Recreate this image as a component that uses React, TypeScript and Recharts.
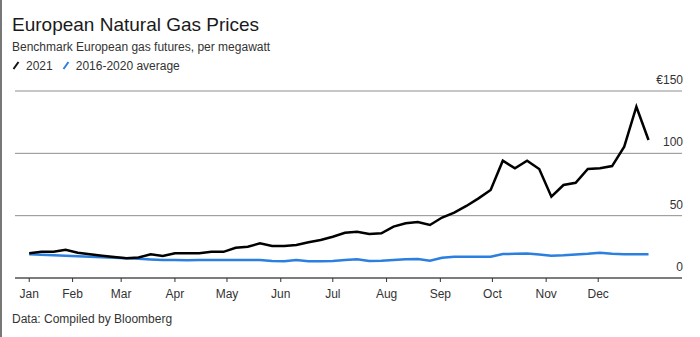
import { LineChart, Line, XAxis, YAxis, CartesianGrid } from 'recharts';

// weekly observations (Thursday closes)
const weeks = [
  '2021-01-07', '2021-01-14', '2021-01-21', '2021-01-28',
  '2021-02-04', '2021-02-11', '2021-02-18', '2021-02-25',
  '2021-03-04', '2021-03-11', '2021-03-18', '2021-03-25',
  '2021-04-01', '2021-04-08', '2021-04-15', '2021-04-22', '2021-04-29',
  '2021-05-06', '2021-05-13', '2021-05-20', '2021-05-27',
  '2021-06-03', '2021-06-10', '2021-06-17', '2021-06-24',
  '2021-07-01', '2021-07-08', '2021-07-15', '2021-07-22', '2021-07-29',
  '2021-08-05', '2021-08-12', '2021-08-19', '2021-08-26',
  '2021-09-02', '2021-09-09', '2021-09-16', '2021-09-23', '2021-09-30',
  '2021-10-07', '2021-10-14', '2021-10-21', '2021-10-28',
  '2021-11-04', '2021-11-11', '2021-11-18', '2021-11-25',
  '2021-12-02', '2021-12-09', '2021-12-16', '2021-12-23', '2021-12-30',
];

const gas2021 = [
  19.8, 21, 21, 22.7, 20.3, 19, 17.9, 16.8, 15.8, 16.4, 19, 17.6, 19.8,
  19.8, 19.8, 21, 21, 24.3, 25.1, 27.8, 25.7, 25.7, 26.5, 28.6, 30.5, 33.1,
  36.3, 37.1, 35.3, 35.8, 41.2, 43.9, 44.9, 42.5, 48.5, 52.5, 57.8, 63.9, 70.6,
  94.1, 88, 94.1, 87.4, 65.2, 74.6, 76.4, 87.4, 88, 89.8, 105.3, 137.4, 110.7,
];

const avg2016to2020 = [
  19, 18.6, 18.2, 17.8, 17.4, 17, 16.6, 16.2, 15.8, 15.4, 14.8, 14.4, 14.4,
  14.2, 14.4, 14.4, 14.4, 14.4, 14.4, 14.4, 13.6, 13.4, 14.4, 13.4, 13.4, 13.6,
  14.4, 15, 13.6, 13.8, 14.4, 15, 15.3, 13.9, 16.3, 17.1, 17.1, 17.1, 17.1,
  19.2, 19.4, 19.6, 18.8, 17.9, 18.2, 18.8, 19.4, 20.3, 19.4, 19, 19, 19,
];

const monthLabels = ['Jan', 'Feb', 'Mar', 'Apr', 'May', 'Jun', 'Jul', 'Aug', 'Sep', 'Oct', 'Nov', 'Dec'];
const monthTickDates = [
  '2021-01-07', '2021-02-01', '2021-03-01', '2021-04-01', '2021-05-01', '2021-06-01',
  '2021-07-01', '2021-08-01', '2021-09-01', '2021-10-01', '2021-11-01', '2021-12-01',
];
const priceTicks = [0, 50, 100, 150];

const dayOfYear = (d: string) => (Date.parse(d) - Date.parse('2021-01-01')) / 86400000;

const data = weeks.map((w, i) => ({
  day: dayOfYear(w),
  y2021: gas2021[i],
  avg: avg2016to2020[i],
}));
const monthTicks = monthTickDates.map(dayOfYear);

const FONT = '"Liberation Sans", Arial, Helvetica, sans-serif';
const BLUE = '#2b7fdf';
const PLOT_RIGHT = 682;

function PriceTick(props: any) {
  const { y, payload } = props;
  const label = payload.value === 150 ? '€150' : String(payload.value);
  return (
    <text x={PLOT_RIGHT + 1} y={y - 7} textAnchor="end" fontSize={12} fill="#333" fontFamily={FONT}>
      {label}
    </text>
  );
}

function Slash({ color }: { color: string }) {
  return (
    <svg width={8} height={10} style={{ verticalAlign: 'baseline', marginRight: 6 }}>
      <line x1={1.5} y1={9} x2={6.5} y2={2} stroke={color} strokeWidth={2} />
    </svg>
  );
}

export default function App() {
  return (
    <div
      style={{
        position: 'absolute',
        left: 0,
        top: 0,
        width: 700,
        height: 337,
        background: '#fff',
        fontFamily: FONT,
        color: '#222',
      }}
    >
      <div style={{ position: 'absolute', left: 0, top: 0, width: 2, height: 337, background: '#777' }} />
      <div style={{ position: 'absolute', left: 12, top: 15, fontSize: 19, lineHeight: '19px', color: '#1a1a1a' }}>
        European Natural Gas Prices
      </div>
      <div style={{ position: 'absolute', left: 12, top: 41, fontSize: 12, lineHeight: '12px', color: '#333' }}>
        Benchmark European gas futures, per megawatt
      </div>
      <div style={{ position: 'absolute', left: 12, top: 60, fontSize: 12, lineHeight: '12px', color: '#333', whiteSpace: 'nowrap' }}>
        <Slash color="#111" />
        <span style={{ marginRight: 9 }}>2021</span>
        <Slash color={BLUE} />
        <span>2016-2020 average</span>
      </div>
      <div style={{ position: 'absolute', left: 12, top: 313, fontSize: 12, lineHeight: '12px', color: '#333' }}>
        Data: Compiled by Bloomberg
      </div>

      <div style={{ position: 'absolute', left: 0, top: 0 }}>
        <LineChart width={700} height={337} data={data} margin={{ top: 91, right: 0, bottom: 29, left: 15 }}>
          <CartesianGrid vertical={false} stroke="#8f8f8f" />
          <XAxis
            dataKey="day"
            type="number"
            domain={[-2.2, 382.3]}
            allowDataOverflow
            ticks={monthTicks}
            tickFormatter={(v: number) => monthLabels[monthTicks.indexOf(v)] ?? ''}
            height={30}
            tickSize={4}
            tickMargin={7}
            stroke="#333"
            tick={{ fontSize: 12, fill: '#333' }}
            interval={0}
          />
          <YAxis
            orientation="right"
            width={18}
            domain={[0, 150]}
            ticks={priceTicks}
            axisLine={false}
            tickLine={false}
            tick={PriceTick}
          />
          <Line
            type="linear"
            dataKey="avg"
            stroke={BLUE}
            strokeWidth={2.5}
            dot={false}
            isAnimationActive={false}
          />
          <Line
            type="linear"
            dataKey="y2021"
            stroke="#000"
            strokeWidth={2.5}
            dot={false}
            isAnimationActive={false}
          />
        </LineChart>
      </div>
    </div>
  );
}
